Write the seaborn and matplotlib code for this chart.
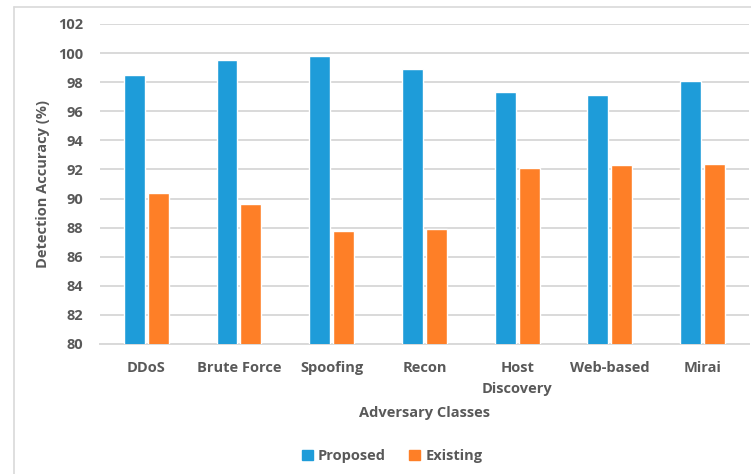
import matplotlib
matplotlib.use("Agg")
import matplotlib.pyplot as plt
from matplotlib.lines import Line2D
import seaborn as sns
import pandas as pd

classes = ["DDoS", "Brute Force", "Spoofing", "Recon", "Host\nDiscovery", "Web-based", "Mirai"]
proposed = [98.5, 99.5, 99.8, 98.9, 97.3, 97.1, 98.1]
existing = [90.4, 89.6, 87.8, 87.9, 92.1, 92.3, 92.4]
series = ["Proposed", "Existing"]
colors = ["#1e9cd9", "#fe7f27"]
yticks = list(range(80, 103, 2))

text_color = "#595959"
grid_color = "#d9d9d9"

df = pd.DataFrame({
    "Class": classes * 2,
    "Accuracy": proposed + existing,
    "Method": [series[0]] * len(classes) + [series[1]] * len(classes),
})

sns.set_theme(style="white")
plt.rcParams["font.family"] = ["Open Sans", "DejaVu Sans"]
plt.rcParams["font.weight"] = "bold"

fig = plt.figure(figsize=(7.51, 4.74), dpi=100)
ax = fig.add_axes([0.1329, 0.2743, 0.8644, 0.6751])

sns.barplot(data=df, x="Class", y="Accuracy", hue="Method", order=classes,
            hue_order=series, palette=colors, width=0.514, gap=0.12,
            saturation=1, ax=ax, legend=False, zorder=3)

ax.set_ylim(80, 102)
ax.set_xlim(-0.5, len(classes) - 0.5)
ax.set_yticks(yticks)
ax.set_yticklabels([str(t) for t in yticks])
ax.yaxis.grid(True, color=grid_color, linewidth=1.4, zorder=0)
ax.set_axisbelow(True)
for side in ["top", "right", "left"]:
    ax.spines[side].set_visible(False)
ax.spines["bottom"].set_color(grid_color)
ax.spines["bottom"].set_linewidth(1.4)
ax.tick_params(axis="both", length=0, labelsize=10.5, labelcolor=text_color)
ax.tick_params(axis="y", pad=12)
ax.tick_params(axis="x", pad=12)
for lbl in ax.get_xticklabels() + ax.get_yticklabels():
    lbl.set_fontweight("bold")
for lbl in ax.get_xticklabels():
    lbl.set_linespacing(1.7)

ax.set_xlabel("Adversary Classes", fontsize=10.5, fontweight="bold",
              color=text_color, labelpad=7)
ax.set_ylabel("Detection Accuracy (%)", fontsize=10.5, fontweight="bold",
              color=text_color, labelpad=6)

handles = [plt.Rectangle((0, 0), 1, 1, color=c) for c in colors]
fig.legend(handles, series, loc="center", bbox_to_anchor=(392 / 751, 1 - 456 / 474),
           ncol=2, frameon=False, handlelength=0.75, handleheight=0.75,
           handletextpad=0.35, columnspacing=1.6,
           prop={"size": 10.5, "weight": "bold"}, labelcolor=text_color)

# light frame around the chart area
fig.add_artist(Line2D([14 / 751, 14 / 751], [0, 1 - 7 / 474], color=grid_color,
                      linewidth=1.2, transform=fig.transFigure))
fig.add_artist(Line2D([14 / 751, 1], [1 - 7 / 474, 1 - 7 / 474], color=grid_color,
                      linewidth=1.2, transform=fig.transFigure))

fig.savefig("out.png", dpi=100, facecolor="white")
